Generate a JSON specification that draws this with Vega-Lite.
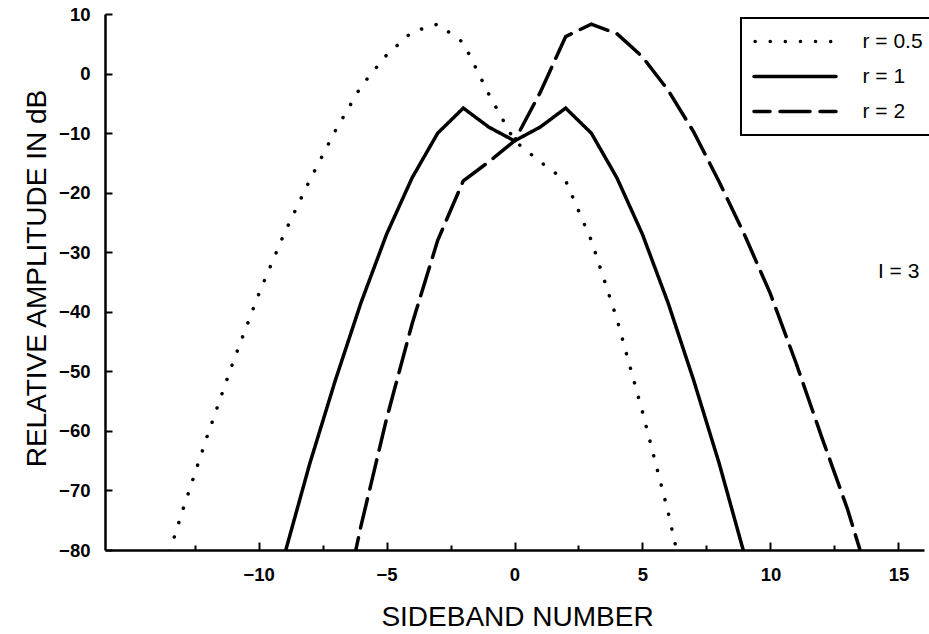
{
  "$schema": "https://vega.github.io/schema/vega-lite/v6.json",
  "width": 819,
  "height": 536,
  "autosize": {"type": "none"},
  "padding": {"left": 105, "top": 14, "right": 5, "bottom": 84},
  "background": "white",
  "config": {
    "view": {"stroke": null},
    "font": "Liberation Sans",
    "axis": {
      "grid": false,
      "domainColor": "black",
      "domainWidth": 2.5,
      "tickColor": "black",
      "tickWidth": 2,
      "labelColor": "black",
      "labelFont": "Liberation Sans",
      "labelFontWeight": "bold",
      "labelFontSize": 18.5,
      "titleColor": "black",
      "titleFont": "Liberation Sans",
      "titleFontWeight": "normal",
      "titleFontSize": 28
    }
  },
  "layer": [
    {
      "data": {
        "values": [
          {"s": -14, "v": -87.5, "r": "r = 0.5"},
          {"s": -13, "v": -73.8, "r": "r = 0.5"},
          {"s": -12, "v": -60.8, "r": "r = 0.5"},
          {"s": -11, "v": -48.5, "r": "r = 0.5"},
          {"s": -10, "v": -37.1, "r": "r = 0.5"},
          {"s": -9, "v": -26.9, "r": "r = 0.5"},
          {"s": -8, "v": -17.9, "r": "r = 0.5"},
          {"s": -7, "v": -9.6, "r": "r = 0.5"},
          {"s": -6, "v": -2.2, "r": "r = 0.5"},
          {"s": -5, "v": 3.1, "r": "r = 0.5"},
          {"s": -4, "v": 7.0, "r": "r = 0.5"},
          {"s": -3, "v": 8.3, "r": "r = 0.5"},
          {"s": -2, "v": 5.2, "r": "r = 0.5"},
          {"s": -1, "v": -3.5, "r": "r = 0.5"},
          {"s": 0, "v": -11.3, "r": "r = 0.5"},
          {"s": 1, "v": -14.8, "r": "r = 0.5"},
          {"s": 2, "v": -18.0, "r": "r = 0.5"},
          {"s": 3, "v": -28.0, "r": "r = 0.5"},
          {"s": 4, "v": -41.2, "r": "r = 0.5"},
          {"s": 5, "v": -56.8, "r": "r = 0.5"},
          {"s": 6, "v": -73.6, "r": "r = 0.5"},
          {"s": 7, "v": -93.0, "r": "r = 0.5"},
          {"s": -9, "v": -81.0, "r": "r = 1"},
          {"s": -8, "v": -65.5, "r": "r = 1"},
          {"s": -7, "v": -51.5, "r": "r = 1"},
          {"s": -6, "v": -38.5, "r": "r = 1"},
          {"s": -5, "v": -27.0, "r": "r = 1"},
          {"s": -4, "v": -17.5, "r": "r = 1"},
          {"s": -3, "v": -10.0, "r": "r = 1"},
          {"s": -2, "v": -5.8, "r": "r = 1"},
          {"s": -1, "v": -9.0, "r": "r = 1"},
          {"s": 0, "v": -11.3, "r": "r = 1"},
          {"s": 1, "v": -9.0, "r": "r = 1"},
          {"s": 2, "v": -5.8, "r": "r = 1"},
          {"s": 3, "v": -10.0, "r": "r = 1"},
          {"s": 4, "v": -17.5, "r": "r = 1"},
          {"s": 5, "v": -27.0, "r": "r = 1"},
          {"s": 6, "v": -38.5, "r": "r = 1"},
          {"s": 7, "v": -51.5, "r": "r = 1"},
          {"s": 8, "v": -65.5, "r": "r = 1"},
          {"s": 9, "v": -81.0, "r": "r = 1"},
          {"s": -7, "v": -96.0, "r": "r = 2"},
          {"s": -6, "v": -76.0, "r": "r = 2"},
          {"s": -5, "v": -58.0, "r": "r = 2"},
          {"s": -4, "v": -42.0, "r": "r = 2"},
          {"s": -3, "v": -28.0, "r": "r = 2"},
          {"s": -2, "v": -18.0, "r": "r = 2"},
          {"s": -1, "v": -14.8, "r": "r = 2"},
          {"s": 0, "v": -11.3, "r": "r = 2"},
          {"s": 1, "v": -3.2, "r": "r = 2"},
          {"s": 2, "v": 6.2, "r": "r = 2"},
          {"s": 3, "v": 8.3, "r": "r = 2"},
          {"s": 4, "v": 6.7, "r": "r = 2"},
          {"s": 5, "v": 2.8, "r": "r = 2"},
          {"s": 6, "v": -2.8, "r": "r = 2"},
          {"s": 7, "v": -9.8, "r": "r = 2"},
          {"s": 8, "v": -18.2, "r": "r = 2"},
          {"s": 9, "v": -27.2, "r": "r = 2"},
          {"s": 10, "v": -37.0, "r": "r = 2"},
          {"s": 11, "v": -48.6, "r": "r = 2"},
          {"s": 12, "v": -61.0, "r": "r = 2"},
          {"s": 13, "v": -73.0, "r": "r = 2"},
          {"s": 14, "v": -87.0, "r": "r = 2"}
        ]
      },
      "mark": {"type": "line", "clip": true, "strokeWidth": 3.5, "strokeCap": "round", "strokeJoin": "miter", "color": "black"},
      "encoding": {
        "x": {
          "field": "s", "type": "quantitative",
          "scale": {"domain": [-16, 16], "nice": false, "zero": false},
          "axis": {
            "title": "SIDEBAND NUMBER",
            "values": [-12.5, -10, -7.5, -5, -2.5, 0, 2.5, 5, 7.5, 10, 12.5, 15],
            "labelExpr": "datum.value % 5 === 0 ? datum.label : ''",
            "tickSize": {"condition": {"test": "datum.value % 5 === 0", "value": -8}, "value": -5},
            "labelPadding": 23,
            "titleX": 412,
            "titleY": 75,
            "titleBaseline": "alphabetic",
            "titleAlign": "center"
          }
        },
        "y": {
          "field": "v", "type": "quantitative",
          "scale": {"domain": [-80, 10], "nice": false, "zero": false},
          "axis": {
            "title": "RELATIVE AMPLITUDE IN dB",
            "values": [-80, -75, -70, -65, -60, -55, -50, -45, -40, -35, -30, -25, -20, -15, -10, -5, 0, 5, 10],
            "labelExpr": "datum.value % 10 === 0 ? datum.label : ''",
            "tickSize": {"condition": {"test": "datum.value % 10 === 0", "value": -7}, "value": -4},
            "labelPadding": 22,
            "titleX": -60,
            "titleY": 264,
            "titleBaseline": "alphabetic",
            "titleAlign": "center",
            "titleAngle": -90
          }
        },
        "strokeDash": {
          "field": "r", "type": "nominal",
          "scale": {"domain": ["r = 0.5", "r = 1", "r = 2"], "range": [[0.1, 15], [1, 0], [30, 10]]},
          "legend": {
            "title": null,
            "orient": "none",
            "legendX": 636,
            "legendY": 4,
            "strokeColor": "black",
            "fillColor": "white",
            "padding": 13,
            "symbolType": "M-41,0H41",
            "symbolSize": 4,
            "symbolOffset": 30.5,
            "symbolStrokeWidth": 3.5,
            "symbolStrokeColor": "black",
            "symbolFillColor": "transparent",
            "symbolDashOffset": 14,
            "rowPadding": 13,
            "labelFont": "Liberation Sans",
            "labelFontSize": 21,
            "labelColor": "black",
            "labelOffset": 57,
            "labelLimit": 300,
            "encode": {
              "symbols": {"update": {"strokeCap": {"value": "round"}}},
              "legend": {"update": {"strokeWidth": {"value": 2}}}
            }
          }
        }
      }
    },
    {
      "data": {"values": [{"note": "I = 3", "s": 14.2, "v": -33.3}]},
      "mark": {"type": "text", "align": "left", "baseline": "middle", "fontSize": 21, "fontWeight": "normal", "font": "Liberation Sans", "color": "black"},
      "encoding": {
        "x": {"field": "s", "type": "quantitative"},
        "y": {"field": "v", "type": "quantitative"},
        "text": {"field": "note"}
      }
    }
  ]
}
